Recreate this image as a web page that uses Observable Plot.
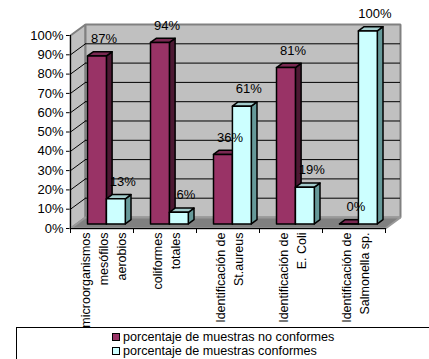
<!DOCTYPE html>
<html>
<head>
<meta charset="utf-8">
<script src="https://cdn.jsdelivr.net/npm/d3@7"></script>
<script src="https://cdn.jsdelivr.net/npm/@observablehq/plot@0.6"></script>
<style>
  html, body { margin: 0; padding: 0; background: #fff; overflow: hidden; width: 429px; height: 359px; }
  #chart { position: absolute; left: 0; top: 0; }
  #legend { position: absolute; left: 16px; top: 327px; width: 440px; height: 60px; border: 1px solid #000; box-sizing: border-box;
            font-family: "Liberation Sans", Arial, sans-serif; font-size: 12.6px; color: #000; padding-top: 2px; }
  .item { display: flex; align-items: center; height: 14px; line-height: 14px; margin-left: 95px; white-space: nowrap; }
  .sw { width: 8px; height: 8px; box-sizing: border-box; border: 1px solid #000; margin-right: 3px; }
</style>
</head>
<body>
<div id="chart"></div>
<div id="legend"></div>
<script>
// ---- data ----
const categories = [
  "microorganismos\nmesófilos\naerobios",
  "coliformes\ntotales",
  "Identificación de\nSt.aureus",
  "Identificación de\nE. Coli",
  "Identificación de\nSalmonella sp."
];
const seriesNames = ["porcentaje de muestras no conformes", "porcentaje de muestras conformes"];
const noConformes = [87, 94, 36, 81, 0];
const conformes = [13, 6, 61, 19, 100];
const yTicks = [0, 10, 20, 30, 40, 50, 60, 70, 80, 90, 100];

// ---- styling / 3D geometry ----
const colors = [
  {front: "#993366", side: "#4d1933", top: "#7a2952"},
  {front: "#ccffff", side: "#669999", top: "#a3cccc"}
];
const DX = 0.238;   // full wall depth in category units
const DY = 5.7;     // full wall depth in value units
const A = 0.42, B = 0.80; // bar depth (front/back) as fraction of wall depth
const GROUP_START = 0.17, BAR_W = 0.30;
const N = categories.length;

const P = (x, y, d) => ({x: x + d * DX, y: y + d * DY});

const faces = [];
function addFace(id, pts, fill, stroke) {
  [...pts, pts[0]].forEach(p => faces.push({id, x: p.x, y: p.y, fill, stroke}));
}

// walls & floor
const wallFaces = [];
function addWall(id, pts, fill, stroke) {
  [...pts, pts[0]].forEach(p => wallFaces.push({id, x: p.x, y: p.y, fill, stroke}));
}
addWall("left", [P(0,0,0), P(0,100,0), P(0,100,1), P(0,0,1)], "#c0c0c0", "#808080");
addWall("back", [P(0,0,1), P(0,100,1), P(N,100,1), P(N,0,1)], "#c0c0c0", "#808080");
addWall("floor", [P(0,0,0), P(N,0,0), P(N,0,1), P(0,0,1)], "#808080", "#999999");

// bars
const seriesVals = [noConformes, conformes];
const labels = [];
categories.forEach((c, i) => {
  seriesVals.forEach((vals, s) => {
    const v = vals[i];
    const x0 = i + GROUP_START + s * BAR_W, x1 = x0 + BAR_W;
    const col = colors[s];
    addFace(`s${i}${s}`, [P(x1,0,A), P(x1,0,B), P(x1,v,B), P(x1,v,A)], col.side, "#000");
    addFace(`t${i}${s}`, [P(x0,v,A), P(x1,v,A), P(x1,v,B), P(x0,v,B)], col.top, "#000");
    addFace(`f${i}${s}`, [P(x0,0,A), P(x1,0,A), P(x1,v,A), P(x0,v,A)], col.front, "#000");
    const tp = P((x0 + x1) / 2, v, A);
    labels.push({x: tp.x, y: tp.y, text: v + "%"});
  });
});

const grid = yTicks.filter(t => t > 0 && t < 100);

const chart = Plot.plot({
  width: 429,
  height: 327,
  marginLeft: 70,
  marginRight: 44,
  marginTop: 35,
  marginBottom: 99,
  style: {fontFamily: "'Liberation Sans', Arial, sans-serif", fontSize: "13px", color: "#000", background: "transparent"},
  x: {domain: [0, N], axis: null},
  y: {domain: [0, 100], ticks: yTicks, tickFormat: d => d + "%", tickSize: 4, tickPadding: 3, label: null, line: false},
  color: {type: "identity"},
  marks: [
    Plot.line(wallFaces, {x: "x", y: "y", z: "id", fill: "fill", stroke: "stroke", strokeWidth: 2, strokeLinejoin: "miter"}),
    Plot.ruleY(grid, {x1: DX, x2: N + DX, y: d => d + DY, stroke: "#000", strokeWidth: 1}),
    Plot.link(grid, {x1: 0, y1: d => d, x2: DX, y2: d => d + DY, stroke: "#000", strokeWidth: 1}),
    Plot.line(faces, {x: "x", y: "y", z: "id", fill: "fill", stroke: "stroke", strokeWidth: 1.5, strokeLinejoin: "round"}),
    Plot.ruleX([0], {y1: 0, y2: 100, stroke: "#000", strokeWidth: 1}),
    Plot.ruleY([0], {x1: 0, x2: N, stroke: "#000", strokeWidth: 1}),
    Plot.ruleX(d3.range(N + 1), {y1: 0, y2: -2.6, stroke: "#000", strokeWidth: 1}),
    Plot.text(labels, {x: "x", y: "y", text: "text", dx: 7, dy: -17, fontSize: 13, fill: "#000"}),
    Plot.text(categories, {x: (d, i) => i + 0.5, y: 0, text: d => d, rotate: -90, textAnchor: "end",
      lineAnchor: "middle", lineHeight: 1.45, dy: 4, fontSize: 12.5, fill: "#000"})
  ]
});
document.getElementById("chart").appendChild(chart);

// legend
const lg = document.getElementById("legend");
seriesNames.forEach((name, s) => {
  const it = document.createElement("div");
  it.className = "item";
  const sw = document.createElement("div");
  sw.className = "sw";
  sw.style.background = colors[s].front;
  const t = document.createElement("span");
  t.textContent = name;
  it.appendChild(sw); it.appendChild(t);
  lg.appendChild(it);
});
</script>
</body>
</html>
